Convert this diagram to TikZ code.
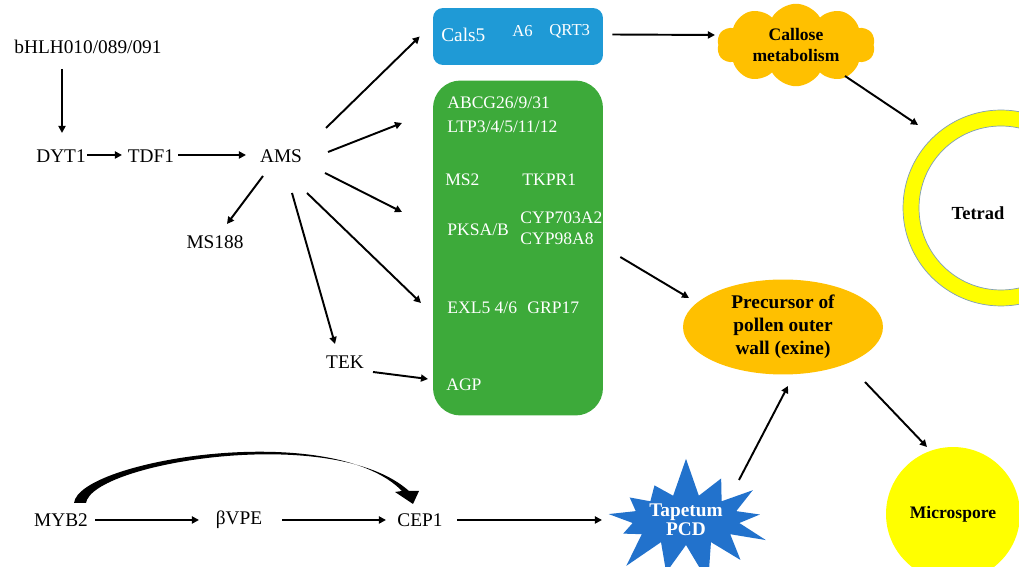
\documentclass[tikz,border=0pt]{standalone}
\usepackage{fontspec}
\setmainfont{Liberation Serif}
\usepackage{tikz}
\usetikzlibrary{arrows.meta,calc,shapes.geometric,shapes.symbols}
\definecolor{boxblue}{HTML}{1F9AD6}
\definecolor{boxgreen}{HTML}{3DAA3A}
\definecolor{amber}{HTML}{FFC000}
\definecolor{burstblue}{HTML}{2272CC}
\definecolor{sporeyellow}{HTML}{FFFF00}
\definecolor{ringline}{HTML}{7F9DB9}

\begin{document}
\begin{tikzpicture}[x=0.02cm, y=-0.02cm,
  gene/.style={inner sep=1pt, font=\fontsize{11}{13}\selectfont},
  intext/.style={anchor=west, inner sep=0pt, text=white, font=\fontsize{10}{12}\selectfont},
  stage/.style={align=center, inner sep=0pt, font=\fontsize{10}{12.5}\selectfont\bfseries},
  arr/.style={-{Triangle[length=4pt,width=4pt]}, line width=1.1pt},
]
  \useasboundingbox (0,0) rectangle (1019,567);

  % shapes cut by the page edge
  \begin{scope}
    \clip (0,0) rectangle (1019,567);
    \filldraw[fill=sporeyellow, draw=ringline, line width=0.4pt, even odd rule]
      (1001,208) circle (1.96cm) (1001,208) circle (1.64cm);
    \node[circle, fill=sporeyellow, minimum size=2.68cm, stage] (spore) at (953,514) {Microspore};
    \node[starburst, starburst points=13, starburst point height=0.8cm, random starburst=7,
      fill=burstblue, minimum width=3.75cm, minimum height=2.6cm, stage, text=white,
      font=\fontsize{11}{11}\selectfont\bfseries] (tapetum) at (686,520) {Tapetum\\PCD};
  \end{scope}
  \node[stage, font=\fontsize{10.5}{12}\selectfont\bfseries] (tetrad) at (978,213) {Tetrad};
  \coordinate (ringtop) at (918,125);

  % regulators
  \node[gene] (bhlh) at (88,47) {bHLH010/089/091};
  \node[gene] (dyt1) at (61,156) {DYT1};
  \node[gene] (tdf1) at (151,156) {TDF1};
  \node[gene] (ams) at (281,156) {AMS};
  \node[gene] (ms188) at (215,242) {MS188};
  \node[gene] (tek) at (345,362) {TEK};
  \node[gene] (myb2) at (61,520) {MYB2};
  \node[gene] (bvpe) at (239,520) {βVPE};
  \node[gene] (cep1) at (420,520) {CEP1};

  % target genes
  \node[fill=boxblue, rounded corners=0.2cm, minimum width=3.4cm, minimum height=1.14cm] (bluebox) at (518,36.5) {};
  \node[intext, font=\fontsize{11}{13}\selectfont] (cals5) at (441,35) {Cals5};
  \node[intext, font=\fontsize{9.5}{11}\selectfont] (a6) at (512,31) {A6};
  \node[intext, font=\fontsize{9.5}{11}\selectfont] (qrt3) at (549,31) {QRT3};

  \node[fill=boxgreen, rounded corners=0.55cm, minimum width=3.4cm, minimum height=6.7cm] (greenbox) at (518,248) {};
  \node[intext] (abcg) at (447,103) {ABCG26/9/31};
  \node[intext] (ltp) at (447,127) {LTP3/4/5/11/12};
  \node[intext] (ms2) at (445,180) {MS2};
  \node[intext] (tkpr1) at (522,180) {TKPR1};
  \node[intext] (pksa) at (447,230) {PKSA/B};
  \node[intext] (cyp703) at (520,218) {CYP703A2};
  \node[intext] (cyp98) at (520,239) {CYP98A8};
  \node[intext] (exl5) at (447,308) {EXL5 4/6};
  \node[intext] (grp17) at (527,308) {GRP17};
  \node[intext] (agp) at (446,385) {AGP};
  \coordinate (toabcg) at (402,123);
  \coordinate (toms2) at (402,212);
  \coordinate (toexl) at (421,303);

  % outcomes
  \node[cloud, cloud puffs=10, cloud puff arc=120, aspect=2, fill=amber, minimum width=3.16cm,
    minimum height=1.65cm, stage] (callose) at (796,45) {Callose\\metabolism};
  \node[ellipse, fill=amber, minimum width=4cm, minimum height=1.9cm, stage,
    font=\fontsize{11}{13}\selectfont\bfseries] (precursor) at (783,327) {Precursor of\\pollen outer\\wall (exine)};

  % connectors
  \draw[arr] ($(bhlh.south -| dyt1)+(1,13)$) -- ($(dyt1)+(1,-23)$);
  \draw[arr] ($(dyt1)+(26,-1)$) -- ($(tdf1)+(-29,-1)$);
  \draw[arr] ($(tdf1)+(27,-1)$) -- ($(ams)+(-35,-1)$);
  \draw[arr] ($(ams)+(45,-28)$) -- ($(bluebox.west)+(-13,0)$);
  \draw[arr] ($(ams)+(47,-4)$) -- (toabcg);
  \draw[arr] ($(ams)+(44,17)$) -- (toms2);
  \draw[arr] ($(ams)+(26,37)$) -- (toexl);
  \draw[arr] ($(ams)+(11,37)$) -- ($(tek)+(-10,-18)$);
  \draw[arr] ($(ams)+(-18,20)$) -- ($(ms188)+(12,-18)$);
  \draw[arr] ($(tek)+(28,10)$) -- ($(agp.west)+(-18,-6)$);
  \draw[arr] ($(bluebox.east)+(9,-2)$) -- ($(callose)+(-81,-10)$);
  \draw[arr] ($(callose)+(49,31)$) -- (ringtop);
  \draw[arr] ($(greenbox.east)+(17,9)$) -- ($(precursor)+(-94,-29)$);
  \draw[arr] ($(tapetum)+(53,-40)$) -- ($(precursor)+(5,59)$);
  \draw[arr] ($(precursor)+(82,55)$) -- ($(spore)+(-26,-67)$);
  \draw[arr] ($(myb2)+(34,0)$) -- ($(bvpe)+(-40,0)$);
  \draw[arr] ($(bvpe)+(43,0)$) -- ($(cep1)+(-34,0)$);
  \draw[arr] ($(cep1)+(37,0)$) -- ($(tapetum |- cep1)+(-84,0)$);
  \fill ($(myb2)+(13,-17)$) .. controls +(5,-43) and +(-70,-72) .. ($(cep1)+(-18,-29)$)
    -- ++(-7,1) -- ($(cep1)+(-7,-16)$) -- ($(cep1)+(-1,-29)$) -- ++(-10,0)
    .. controls +(-76,-68) and +(6,-40) .. ($(myb2)+(25,-17)$) -- cycle;
\end{tikzpicture}
\end{document}
